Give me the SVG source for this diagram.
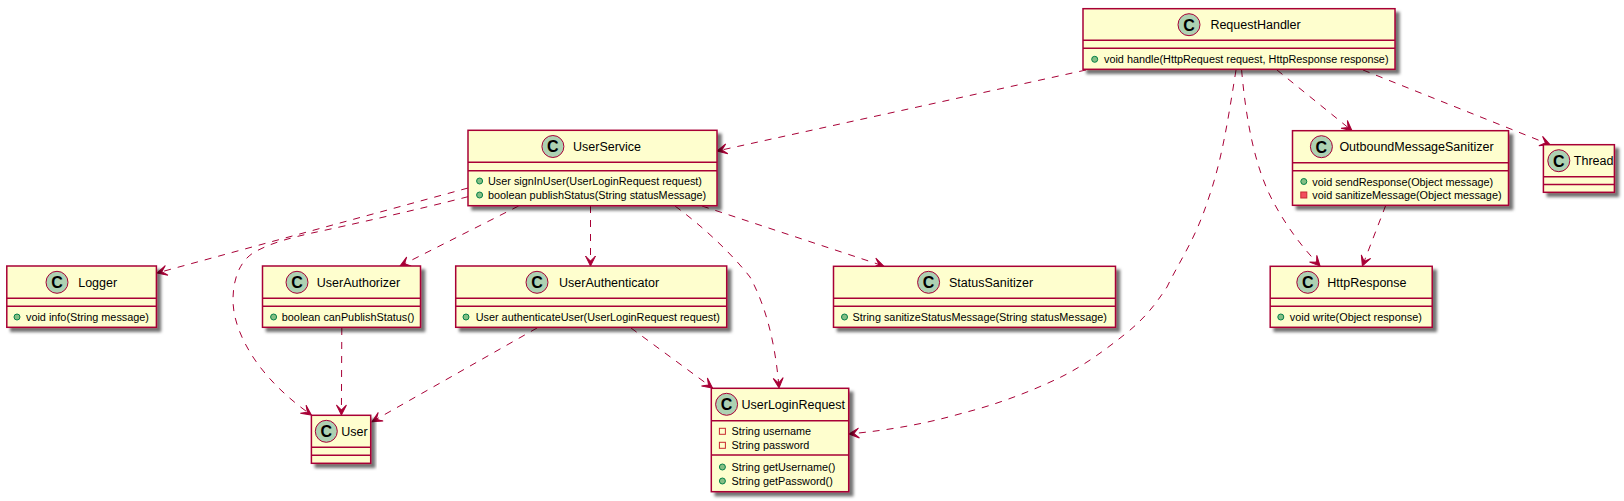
<svg xmlns="http://www.w3.org/2000/svg" width="1624" height="501" viewBox="0 0 1624 501">
<style>
.b{fill:#FEFECE;stroke:#A80036;stroke-width:1.5;filter:url(#s)}
.l{stroke:#A80036;stroke-width:1.5;fill:none}
.k{fill:#ADD1B2;stroke:#A80036;stroke-width:1}
.c{font:bold 16px "Liberation Sans",Arial,sans-serif;fill:#000;text-anchor:middle}
.t{font:12.5px "Liberation Sans",Arial,sans-serif;fill:#000}
.m{font:10.85px "Liberation Sans",Arial,sans-serif;fill:#000}
.pu{fill:#84BE84;stroke:#038048;stroke-width:1}
.pr{fill:#F24D5C;stroke:#C82930;stroke-width:1}
.pf{fill:none;stroke:#C82930;stroke-width:1}
#connectors path{fill:none;stroke:#A80036;stroke-width:1;stroke-dasharray:7,7;marker-end:url(#a)}
</style>
<defs>
<filter id="s" x="-10%" y="-10%" width="120%" height="130%"><feDropShadow dx="4" dy="4" stdDeviation="1.6" flood-color="#000" flood-opacity=".55"/></filter>
<marker id="a" markerUnits="userSpaceOnUse" markerWidth="14" markerHeight="14" refX="11" refY="6" orient="auto" overflow="visible"><path d="M11,6 L1,1 L6,6 L1,11 Z" fill="#A80036" stroke="#A80036" stroke-width="1" stroke-dasharray="none"/></marker>
</defs>
<g id="connectors">
<path d="M1086,70 L717,151"/>
<path d="M1277,70 L1352,130.7"/>
<path d="M1363,70 L1550,144.7"/>
<path d="M1241.6,70 C1246,120 1255,170 1275,205 C1290,232 1305,250 1320,266"/>
<path d="M1236,70 C1228,120 1222,160 1208,200 C1195,240 1180,260 1167,287 C1155,305 1145,318 1126.5,333 C1105,350 1085,365 1061,377 C1030,392 995,405 963,413 C925,424 890,430 849,434"/>
<path d="M1385.7,205.5 L1362.4,266"/>
<path d="M468,188 L157,273"/>
<path d="M468,196.7 C420,209 350,225 312,233 C290,238 270,243 253,253 C238,263 233,282 233,300 C233,320 242,340 253,357 C268,380 290,400 311.4,415"/>
<path d="M518.6,206 L400,266"/>
<path d="M590.5,206 L590.5,266"/>
<path d="M675,206 C710,232 735,258 750,277 C768,310 776,350 779,388"/>
<path d="M702,206 L883.7,266"/>
<path d="M341.8,328 L341.4,415"/>
<path d="M537,328 L372,421.7"/>
<path d="M631,328 L712.5,388"/>
</g>
<g id="RequestHandler"><rect class="b" x="1083" y="8.7" width="312" height="60.6"/><path class="l" d="M1083,40.3H1395M1083,48.3H1395"/><circle class="k" cx="1189" cy="24.7" r="11"/><text class="c" x="1189" y="30.5">C</text><text class="t" x="1210.4" y="29">RequestHandler</text><circle class="pu" cx="1094.7" cy="59.3" r="3"/><text class="m" x="1104" y="63">void handle(HttpRequest request, HttpResponse response)</text></g>
<g id="OutboundMessageSanitizer"><rect class="b" x="1292.5" y="130.7" width="216" height="74.6"/><path class="l" d="M1292.5,162.7H1508.5M1292.5,170.7H1508.5"/><circle class="k" cx="1321.4" cy="146.7" r="11"/><text class="c" x="1321.4" y="152.5">C</text><text class="t" x="1339.4" y="151">OutboundMessageSanitizer</text><circle class="pu" cx="1303.8" cy="181.5" r="3"/><text class="m" x="1312.3" y="185.5">void sendResponse(Object message)</text><rect class="pr" x="1300.8" y="192" width="6" height="6"/><text class="m" x="1312.3" y="199">void sanitizeMessage(Object message)</text></g>
<g id="Thread"><rect class="b" x="1543.4" y="144.7" width="71" height="47.6"/><path class="l" d="M1543.4,176.7H1614.4M1543.4,184.5H1614.4"/><circle class="k" cx="1558.8" cy="160.7" r="11"/><text class="c" x="1558.8" y="166.5">C</text><text class="t" x="1573.8" y="165">Thread</text></g>
<g id="UserService"><rect class="b" x="468" y="130.3" width="249" height="75.4"/><path class="l" d="M468,162.3H717M468,170.7H717"/><circle class="k" cx="552.9" cy="146.5" r="11"/><text class="c" x="552.9" y="152.3">C</text><text class="t" x="573" y="151">UserService</text><circle class="pu" cx="479.6" cy="181" r="3"/><text class="m" x="488" y="185">User signInUser(UserLoginRequest request)</text><circle class="pu" cx="479.6" cy="195" r="3"/><text class="m" x="488" y="199">boolean publishStatus(String statusMessage)</text></g>
<g id="Logger"><rect class="b" x="6.8" y="266" width="149.6" height="61.3"/><path class="l" d="M6.8,298.3H156.4M6.8,306.3H156.4"/><circle class="k" cx="57" cy="282.3" r="11"/><text class="c" x="57" y="288">C</text><text class="t" x="78.2" y="287">Logger</text><circle class="pu" cx="17" cy="317" r="3"/><text class="m" x="26" y="321">void info(String message)</text></g>
<g id="UserAuthorizer"><rect class="b" x="262.5" y="266" width="158" height="61.3"/><path class="l" d="M262.5,298.3H420.5M262.5,306.3H420.5"/><circle class="k" cx="297" cy="282.3" r="11"/><text class="c" x="297" y="288">C</text><text class="t" x="316.8" y="287">UserAuthorizer</text><circle class="pu" cx="273.6" cy="317" r="3"/><text class="m" x="281.8" y="321">boolean canPublishStatus()</text></g>
<g id="UserAuthenticator"><rect class="b" x="455.7" y="266" width="271" height="61.3"/><path class="l" d="M455.7,298.3H726.7M455.7,306.3H726.7"/><circle class="k" cx="537" cy="282.3" r="11"/><text class="c" x="537" y="288">C</text><text class="t" x="559" y="287">UserAuthenticator</text><circle class="pu" cx="466" cy="317" r="3"/><text class="m" x="475.7" y="321">User authenticateUser(UserLoginRequest request)</text></g>
<g id="StatusSanitizer"><rect class="b" x="833.5" y="266.3" width="282" height="61"/><path class="l" d="M833.5,298.3H1115.5M833.5,306.3H1115.5"/><circle class="k" cx="928.6" cy="282.3" r="11"/><text class="c" x="928.6" y="288">C</text><text class="t" x="949" y="287">StatusSanitizer</text><circle class="pu" cx="844.5" cy="317" r="3"/><text class="m" x="852.6" y="321">String sanitizeStatusMessage(String statusMessage)</text></g>
<g id="HttpResponse"><rect class="b" x="1270.2" y="266.3" width="162" height="61"/><path class="l" d="M1270.2,298.3H1432.2M1270.2,306.3H1432.2"/><circle class="k" cx="1307.8" cy="282.3" r="11"/><text class="c" x="1307.8" y="288">C</text><text class="t" x="1327.3" y="287">HttpResponse</text><circle class="pu" cx="1280.8" cy="317" r="3"/><text class="m" x="1289.8" y="321">void write(Object response)</text></g>
<g id="User"><rect class="b" x="311.4" y="415.3" width="59.3" height="48"/><path class="l" d="M311.4,447.3H370.7M311.4,455.3H370.7"/><circle class="k" cx="326.3" cy="431.3" r="11"/><text class="c" x="326.3" y="437">C</text><text class="t" x="341.2" y="436">User</text></g>
<g id="UserLoginRequest"><rect class="b" x="711.3" y="388.3" width="137.4" height="103.4"/><path class="l" d="M711.3,420.7H848.7M711.3,455H848.7"/><circle class="k" cx="726.6" cy="404.3" r="11"/><text class="c" x="726.6" y="410">C</text><text class="t" x="741.5" y="409">UserLoginRequest</text><rect class="pf" x="719.4" y="428.3" width="6" height="6"/><text class="m" x="731.6" y="435">String username</text><rect class="pf" x="719.4" y="442.3" width="6" height="6"/><text class="m" x="731.6" y="449">String password</text><circle class="pu" cx="722.4" cy="467" r="3"/><text class="m" x="731.6" y="471">String getUsername()</text><circle class="pu" cx="722.4" cy="481" r="3"/><text class="m" x="731.6" y="485">String getPassword()</text></g>
</svg>
